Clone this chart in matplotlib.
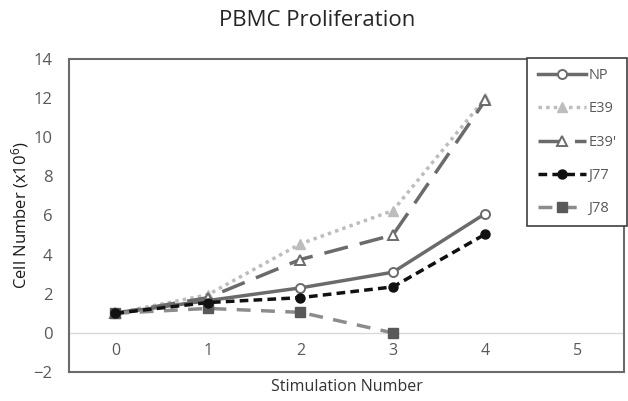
import numpy as np
import matplotlib.pyplot as plt

plt.rcParams['font.family'] = ['Open Sans', 'DejaVu Sans']
plt.rcParams['mathtext.fontset'] = 'custom'
plt.rcParams['mathtext.rm'] = 'Open Sans'
plt.rcParams['mathtext.it'] = 'Open Sans'

stim = [0, 1, 2, 3, 4]
np_vals = [1.0, 1.65, 2.3, 3.1, 6.1]
e39 = [1.0, 1.95, 4.55, 6.25, 12.0]
e39p = [1.0, 1.8, 3.75, 5.0, 11.9]
j77 = [1.0, 1.55, 1.8, 2.35, 5.05]
j78 = [1.0, 1.25, 1.05, 0.0]
x_labels = ['0', '1', '2', '3', '4', '5']

txt = '#595959'

fig = plt.figure(figsize=(6.28, 4.01), dpi=100)
ax = fig.add_axes([0.110, 0.0723, 0.884, 0.7807])

ax.axhline(0, color='#d9d9d9', lw=1, zorder=1)

ax.plot(stim, np_vals, color='#6b6b6b', lw=2.5, marker='o', ms=6.5,
        mfc='white', mec='#6b6b6b', mew=1.4, label='NP', zorder=3)
ax.plot(stim, e39, color='#bdbdbd', lw=2.5, ls=(0, (1, 1.2)), marker='^', ms=7,
        mfc='#bdbdbd', mec='#bdbdbd', label='E39', zorder=2)
ax.plot(stim, e39p, color='#6b6b6b', lw=2.5, ls=(0, (7, 3.5)), marker='^', ms=7,
        mfc='white', mec='#6b6b6b', mew=1.4, label="E39'", zorder=3)
ax.plot(stim, j77, color='#111111', lw=2.5, ls=(0, (2.5, 1.5)), marker='o', ms=6.5,
        mfc='#111111', mec='#111111', label='J77', zorder=4)
ax.plot(stim[:len(j78)], j78, color='#8c8c8c', lw=2.5, ls=(0, (4, 3)), marker='s', ms=6.5,
        mfc='#595959', mec='#595959', label='J78', zorder=3)

ax.set_xlim(-0.5, 5.5)
ax.set_ylim(-2, 14)
ax.set_yticks(np.arange(-2, 15, 2))
ax.tick_params(axis='y', length=0, labelsize=12, labelcolor=txt, pad=12)
ax.set_xticks([])
for i, lab in enumerate(x_labels):
    ax.text(i, -0.95, lab, ha='center', va='center', fontsize=11.5, color=txt)

for s in ax.spines.values():
    s.set_color('#6b6b6b')
    s.set_linewidth(1.5)

ax.set_ylabel('Cell Number (x10$^{6}$)', fontsize=12, color='#1a1a1a', labelpad=2)
ax.set_xlabel('Stimulation Number', fontsize=11.5, color='#333333', labelpad=5)
fig.suptitle('PBMC Proliferation', x=0.505, y=0.975, fontsize=16, color='#262626')

leg = ax.legend(loc='upper right', bbox_to_anchor=(1.005, 1.003), handlelength=3.3,
                fontsize=10.5, labelspacing=1.25, borderpad=0.7, handletextpad=0.2,
                fancybox=False, framealpha=1, borderaxespad=0)
leg.get_frame().set_edgecolor('#404040')
leg.get_frame().set_linewidth(1.2)
for t in leg.get_texts():
    t.set_color(txt)

fig.savefig('out.png', dpi=100)
